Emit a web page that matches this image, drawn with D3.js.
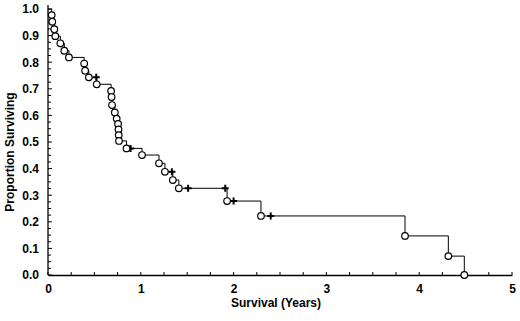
<!DOCTYPE html>
<html><head><meta charset="utf-8">
<script src="https://cdn.jsdelivr.net/npm/d3@7/dist/d3.min.js"></script>
<style>body{margin:0;background:#fff}svg{display:block}</style>
</head><body>
<svg id="c" width="520" height="321"></svg>
<script>
const eventTimes = [0.04,0.046,0.068,0.079,0.133,0.176,0.226,0.39,0.40,0.44,0.525,0.68,0.685,0.69,0.72,0.74,0.755,0.76,0.762,0.765,0.846,1.013,1.196,1.26,1.345,1.41,1.93,2.295,3.847,4.314,4.486];
const eventSurv  = [0.977,0.952,0.924,0.898,0.871,0.843,0.818,0.795,0.768,0.743,0.717,0.692,0.669,0.639,0.611,0.588,0.568,0.547,0.526,0.504,0.476,0.451,0.42,0.388,0.357,0.326,0.278,0.222,0.147,0.071,0.0];
const censorTimes = [0.52,0.89,1.335,1.51,1.91,2.0,2.40];
const censorSurv  = [0.743,0.476,0.388,0.326,0.326,0.278,0.222];
const xTicks = [0,1,2,3,4,5];
const yTicks = [0,0.1,0.2,0.3,0.4,0.5,0.6,0.7,0.8,0.9,1.0];

const svg = d3.select("#c");
const x = d3.scaleLinear().domain([0,5]).range([48,512]);
const y = d3.scaleLinear().domain([0,1]).range([275,9]);
const font = "'Liberation Sans', Arial, sans-serif";

// axes
const xAxis = d3.axisBottom(x).tickValues(xTicks).tickSize(0).tickPadding(9).tickFormat(d3.format("d"));
const gx = svg.append("g").attr("transform","translate(0,275)").call(xAxis);
gx.select(".domain").attr("stroke","#000").attr("stroke-width",1.3);
gx.selectAll("text").attr("font-family",font).attr("font-weight","bold").attr("font-size",12).attr("fill","#000");
gx.selectAll(".minor").data(d3.range(0,5.001,0.25)).enter().append("line")
  .attr("x1",d=>x(d)).attr("x2",d=>x(d)).attr("y1",0).attr("y2",-3)
  .attr("stroke","#000").attr("stroke-width",1);

const yAxis = d3.axisLeft(y).tickValues(yTicks).tickSize(0).tickPadding(9).tickFormat(d3.format(".1f"));
const gy = svg.append("g").attr("transform","translate(48,0)").call(yAxis);
gy.select(".domain").attr("stroke","#000").attr("stroke-width",1.3).attr("d","M0,5V275");
gy.selectAll("text").attr("font-family",font).attr("font-weight","bold").attr("font-size",12).attr("fill","#000");
gy.selectAll(".minor").data(d3.range(0,1.0001,0.025)).enter().append("line")
  .attr("y1",d=>y(d)).attr("y2",d=>y(d)).attr("x1",0).attr("x2",d=>Math.abs(d*10-Math.round(d*10))<1e-6?4:3)
  .attr("stroke","#000").attr("stroke-width",1);

// axis titles
svg.append("text").attr("x",276).attr("y",307).attr("text-anchor","middle")
  .attr("font-family",font).attr("font-weight","bold").attr("font-size",12).text("Survival (Years)");
svg.append("text").attr("transform","translate(14,152) rotate(-90)").attr("text-anchor","middle")
  .attr("font-family",font).attr("font-weight","bold").attr("font-size",12).text("Proportion Surviving");

// step curve
const pts = [{t:0,s:1}]
  .concat(eventTimes.map((t,i)=>({t,s:eventSurv[i]})))
  .concat(censorTimes.map((t,i)=>({t,s:censorSurv[i]})))
  .sort((a,b)=>a.t-b.t);
const line = d3.line().x(d=>x(d.t)).y(d=>y(d.s)).curve(d3.curveStepAfter);
svg.append("path").datum(pts).attr("d",line).attr("fill","none").attr("stroke","#000").attr("stroke-width",1);

// censor marks
const plus = d3.symbol().type(d3.symbolCross).size(0);
svg.selectAll(".cens").data(censorTimes).enter().append("path")
  .attr("d",(d,i)=>`M${x(d)-3.5},${y(censorSurv[i])}h7M${x(d)},${y(censorSurv[i])-3.5}v7`)
  .attr("stroke","#000").attr("stroke-width",2).attr("fill","none");

// event circles
svg.selectAll(".ev").data(eventTimes).enter().append("circle")
  .attr("cx",d=>x(d)).attr("cy",(d,i)=>y(eventSurv[i])).attr("r",3.3)
  .attr("fill","#fff").attr("stroke","#000").attr("stroke-width",1.2);
</script>
</body></html>
